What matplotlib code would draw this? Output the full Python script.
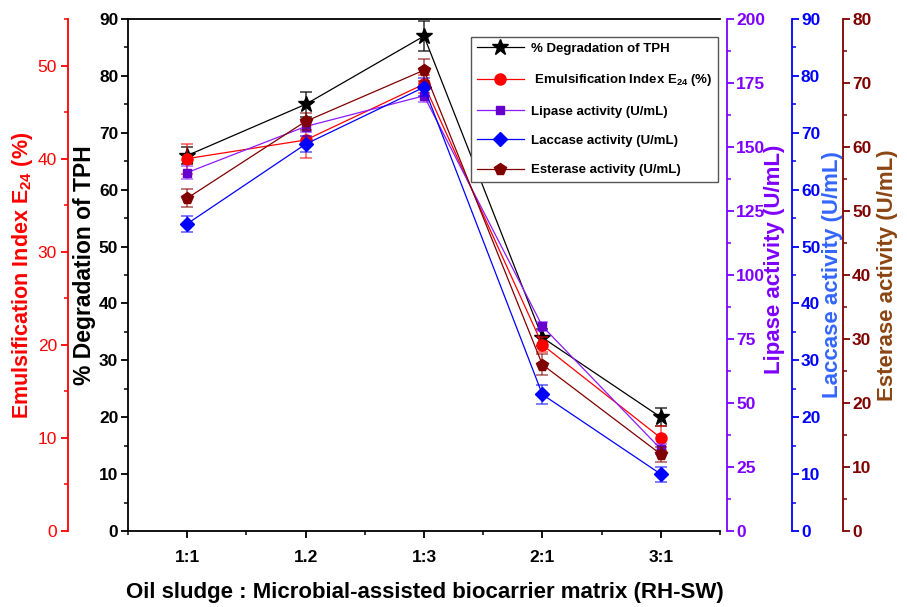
import matplotlib
matplotlib.use('Agg')
import matplotlib.pyplot as plt
from matplotlib.ticker import MultipleLocator

plt.rcParams['font.family'] = ['Liberation Sans', 'DejaVu Sans']
plt.rcParams['font.weight'] = 'bold'
plt.rcParams['mathtext.fontset'] = 'custom'
plt.rcParams['mathtext.rm'] = 'Liberation Sans'
plt.rcParams['mathtext.bf'] = 'Liberation Sans:bold'

#Data
ratios = ['1:1', '1.2', '1:3', '2:1', '3:1']
x = [1, 2, 3, 4, 5]

tph = [66, 75, 87, 34, 20]
tph_err = [1.5, 2.2, 2.6, 1.5, 1.6]

e24 = [40, 42, 48, 20, 10]
e24_err = [1.6, 1.9, 1.0, 0.8, 1.3]

lipase = [140, 158, 170, 80, 32]
lipase_err = [2.5, 2.0, 2.5, 1.8, 2.0]

laccase = [54, 68, 78, 24, 10]
laccase_err = [1.4, 1.4, 1.6, 1.6, 1.3]

esterase = [52, 64, 72, 26, 12]
esterase_err = [1.4, 1.3, 1.7, 1.6, 1.2]

legend_labels = ['% Degradation of TPH',
                 ' Emulsification Index E$_{\\mathbf{24}}$ (%)',
                 'Lipase activity (U/mL)',
                 'Laccase activity (U/mL)',
                 'Esterase activity (U/mL)']

#Colours
RED = '#FF0000'
PURPLE = '#7F00FF'
BLUE = '#0000FF'
DRED = '#800000'

fig = plt.figure(figsize=(9.07, 6.07), dpi=100)
ax = fig.add_axes([0.1411, 0.1252, 0.6527, 0.8435])
ax_e24 = ax.twinx()
ax_lip = ax.twinx()
ax_lac = ax.twinx()
ax_est = ax.twinx()


def draw(a, y, err, color, marker, ms, mfc, alpha=0.65):
    line, caps, bars = a.errorbar(x, y, yerr=err, color=color, lw=0.9,
                                  marker=marker, ms=ms, mfc=mfc, mec=mfc,
                                  capsize=4.5, elinewidth=1.1, capthick=1.1)
    for c in caps:
        c.set_alpha(alpha)
    for b in bars:
        b.set_alpha(alpha)
    return line


h1 = draw(ax, tph, tph_err, 'black', '*', 12, 'black', 0.8)
h2 = draw(ax_e24, e24, e24_err, RED, 'o', 8, RED)
h3 = draw(ax_lip, lipase, lipase_err, '#8A1AFF', 's', 6, '#6600CC')
h4 = draw(ax_lac, laccase, laccase_err, BLUE, 'D', 7, BLUE)
h5 = draw(ax_est, esterase, esterase_err, DRED, 'p', 8.5, DRED)

#Main axis
ax.set_xlim(0.5, 5.5)
ax.set_xticks(x, ratios)
ax.xaxis.set_minor_locator(MultipleLocator(0.5))
ax.set_ylim(0, 90)
ax.yaxis.set_major_locator(MultipleLocator(10))
ax.yaxis.set_minor_locator(MultipleLocator(5))
ax.spines['right'].set_visible(False)
for s in ['left', 'bottom', 'top']:
    ax.spines[s].set_linewidth(1.3)
ax.tick_params(which='major', direction='out', length=5, width=1.3, labelsize=12.5)
ax.tick_params(which='minor', direction='out', length=3, width=1.1)
ax.tick_params(axis='x', pad=9)
ax.tick_params(axis='y', pad=2)
ax.set_ylabel('% Degradation of TPH', fontsize=16.5, fontweight='bold')
ax.yaxis.set_label_coords(-0.054, 0.52)
ax.set_xlabel('Oil sludge : Microbial-assisted biocarrier matrix (RH-SW)', fontsize=16, fontweight='bold')
ax.xaxis.set_label_coords(0.502, -0.10)

#Secondary axes
def setup(a, side, pos, color, lo, hi, major, minor, label, lcolor, lx, ly=0.5):
    for s in a.spines.values():
        s.set_visible(False)
    sp = a.spines[side]
    sp.set_visible(True)
    sp.set_position(('axes', pos))
    sp.set_color(color)
    sp.set_linewidth(1.3)
    if side == 'left':
        a.yaxis.tick_left()
        a.yaxis.set_label_position('left')
    a.set_ylim(lo, hi)
    a.yaxis.set_major_locator(MultipleLocator(major))
    a.yaxis.set_minor_locator(MultipleLocator(minor))
    a.tick_params(axis='y', which='major', direction='out', length=5, width=1.3,
                  colors=color, labelsize=12.5, pad=1.5)
    a.tick_params(axis='y', which='minor', direction='out', length=3, width=1.1, colors=color)
    a.set_ylabel(label, color=lcolor, fontsize=16, fontweight='bold')
    a.yaxis.set_label_coords(lx, ly)


setup(ax_e24, 'left', -0.101, RED, 0, 55, 10, 5,
      'Emulsification Index E$_{\\mathbf{24}}$ (%)', RED, -0.157)
ax_e24.yaxis.label.set_fontsize(15.5)
ax_e24.set_yticks(range(0, 51, 10), [str(v) for v in range(0, 51, 10)], fontweight='normal')
ax_e24.tick_params(axis='y', pad=3)
setup(ax_lip, 'right', 1.0118, PURPLE, 0, 200, 25, 12.5,
      'Lipase activity (U/mL)', PURPLE, 1.074, 0.53)
setup(ax_lac, 'right', 1.1216, BLUE, 0, 90, 10, 5,
      'Laccase activity (U/mL)', '#3366FF', 1.172)
setup(ax_est, 'right', 1.2078, DRED, 0, 80, 10, 5,
      'Esterase activity (U/mL)', '#8B4513', 1.265)

#Legend
leg = ax_est.legend([h1, h2, h3, h4, h5], legend_labels,
                    loc='upper right', bbox_to_anchor=(0.997, 0.965),
                    borderaxespad=0, fancybox=False, edgecolor='#555555',
                    framealpha=1, prop={'weight': 'bold', 'size': 9.5},
                    handlelength=3.6, handletextpad=0.5, labelspacing=1.3,
                    borderpad=0.45, numpoints=1)
leg.get_frame().set_linewidth(1.0)

plt.savefig('out.png', dpi=100)
